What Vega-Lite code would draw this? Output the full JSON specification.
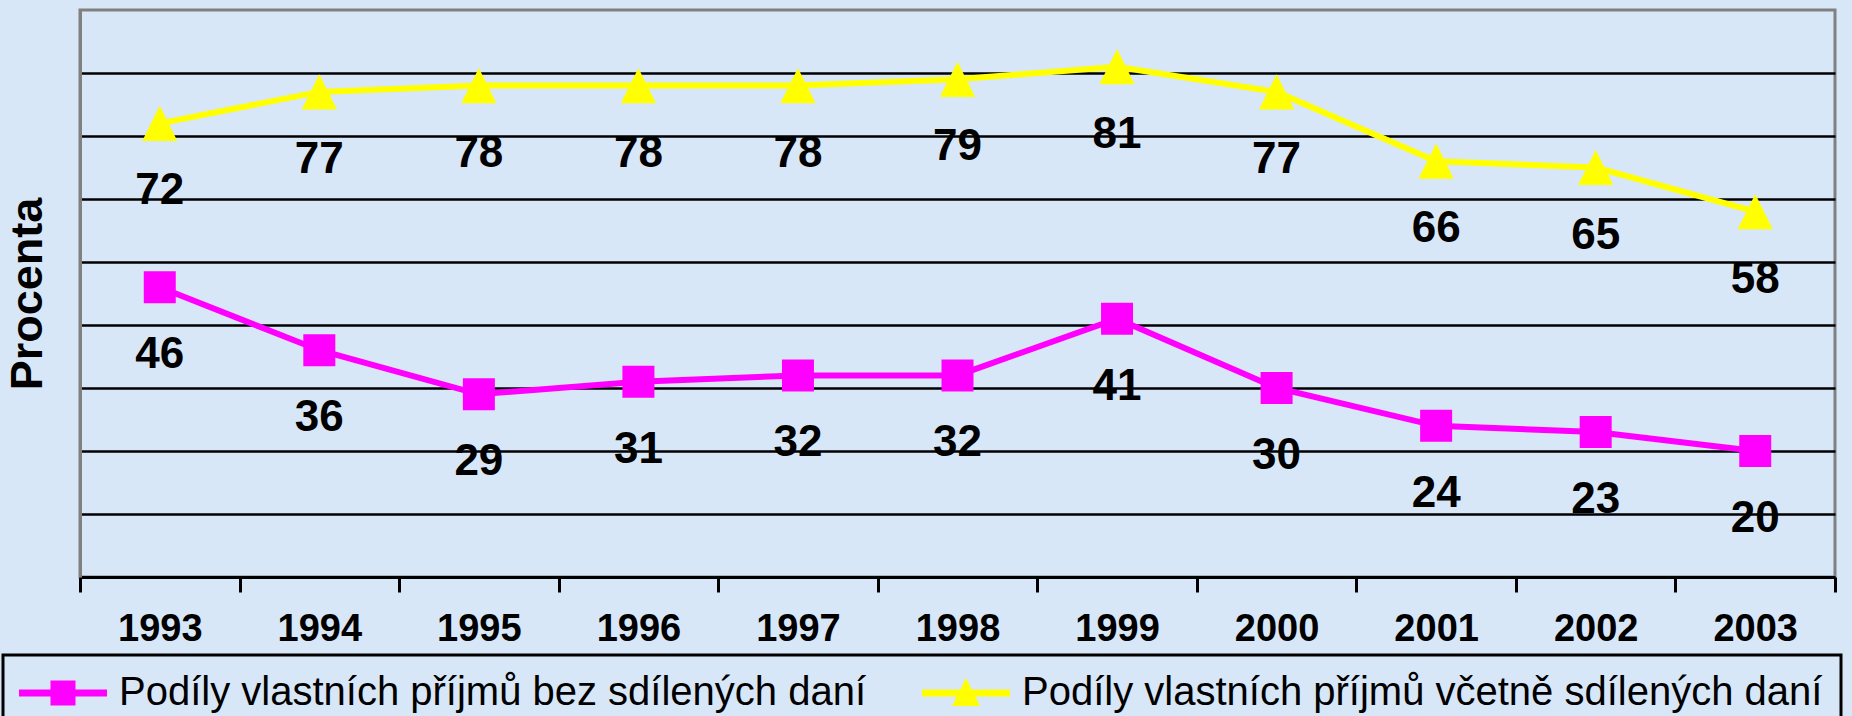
{
  "$schema": "https://vega.github.io/schema/vega-lite/v6.json",
  "width": 1755,
  "height": 567,
  "autosize": {"type": "none"},
  "padding": {"left": 80, "top": 10, "right": 17, "bottom": 139},
  "background": "#d8e7f7",
  "config": {
    "view": {"stroke": "#808080", "strokeWidth": 3},
    "font": "Liberation Sans",
    "legend": {
      "title": null, "orient": "none", "legendX": -77, "legendY": 645,
      "direction": "horizontal", "strokeColor": "black", "strokeWidth": 3, "padding": 18,
      "symbolSize": 1600, "symbolOffset": 22, "symbolOpacity": 1, "symbolStrokeWidth": 0,
      "labelFontSize": 40, "labelFont": "Liberation Sans",
      "labelColor": "black", "labelLimit": 1000, "labelOffset": 36, "columnPadding": 55
    }
  },
  "data": {"values": [
    {"year": "1993", "series": "Podíly vlastních příjmů bez sdílených daní", "value": 46},
    {"year": "1994", "series": "Podíly vlastních příjmů bez sdílených daní", "value": 36},
    {"year": "1995", "series": "Podíly vlastních příjmů bez sdílených daní", "value": 29},
    {"year": "1996", "series": "Podíly vlastních příjmů bez sdílených daní", "value": 31},
    {"year": "1997", "series": "Podíly vlastních příjmů bez sdílených daní", "value": 32},
    {"year": "1998", "series": "Podíly vlastních příjmů bez sdílených daní", "value": 32},
    {"year": "1999", "series": "Podíly vlastních příjmů bez sdílených daní", "value": 41},
    {"year": "2000", "series": "Podíly vlastních příjmů bez sdílených daní", "value": 30},
    {"year": "2001", "series": "Podíly vlastních příjmů bez sdílených daní", "value": 24},
    {"year": "2002", "series": "Podíly vlastních příjmů bez sdílených daní", "value": 23},
    {"year": "2003", "series": "Podíly vlastních příjmů bez sdílených daní", "value": 20},
    {"year": "1993", "series": "Podíly vlastních příjmů včetně sdílených daní", "value": 72},
    {"year": "1994", "series": "Podíly vlastních příjmů včetně sdílených daní", "value": 77},
    {"year": "1995", "series": "Podíly vlastních příjmů včetně sdílených daní", "value": 78},
    {"year": "1996", "series": "Podíly vlastních příjmů včetně sdílených daní", "value": 78},
    {"year": "1997", "series": "Podíly vlastních příjmů včetně sdílených daní", "value": 78},
    {"year": "1998", "series": "Podíly vlastních příjmů včetně sdílených daní", "value": 79},
    {"year": "1999", "series": "Podíly vlastních příjmů včetně sdílených daní", "value": 81},
    {"year": "2000", "series": "Podíly vlastních příjmů včetně sdílených daní", "value": 77},
    {"year": "2001", "series": "Podíly vlastních příjmů včetně sdílených daní", "value": 66},
    {"year": "2002", "series": "Podíly vlastních příjmů včetně sdílených daní", "value": 65},
    {"year": "2003", "series": "Podíly vlastních příjmů včetně sdílených daní", "value": 58}
  ]},
  "encoding": {
    "x": {
      "field": "year", "type": "ordinal",
      "scale": {"paddingInner": 0, "paddingOuter": 0},
      "axis": {
        "title": null, "labelAngle": 0, "labelFontSize": 38, "labelFontWeight": "bold",
        "labelColor": "black", "labelFont": "Liberation Sans",
        "domainColor": "black", "domainWidth": 3,
        "tickColor": "black", "tickWidth": 3, "tickSize": 15, "tickBand": "extent",
        "labelPadding": 18, "grid": false
      }
    },
    "y": {
      "field": "value", "type": "quantitative",
      "scale": {"domain": [0, 90], "nice": false},
      "axis": {
        "title": "Procenta", "titleFontSize": 45, "titleFontWeight": "bold", "titleColor": "black",
        "titleFont": "Liberation Sans", "titlePadding": 30,
        "labels": false, "ticks": false,
        "domain": true, "domainColor": "#808080", "domainWidth": 3,
        "grid": true, "gridColor": "black", "gridWidth": 2.5,
        "values": [10, 20, 30, 40, 50, 60, 70, 80]
      }
    }
  },
  "layer": [
    {
      "mark": {"type": "line", "strokeWidth": 6},
      "encoding": {
        "color": {
          "field": "series", "type": "nominal",
          "scale": {
            "domain": ["Podíly vlastních příjmů bez sdílených daní", "Podíly vlastních příjmů včetně sdílených daní"],
            "range": ["#ff00ff", "#ffff00"]
          }
        }
      }
    },
    {
      "transform": [{"filter": "datum.series === 'Podíly vlastních příjmů bez sdílených daní'"}],
      "mark": {"type": "point", "shape": "square", "filled": true, "opacity": 1, "size": 1024, "color": "#ff00ff"}
    },
    {
      "transform": [{"filter": "datum.series === 'Podíly vlastních příjmů včetně sdílených daní'"}],
      "mark": {"type": "point", "shape": "M0,-1.1L1.1,1.1L-1.1,1.1Z", "filled": true, "opacity": 1, "size": 1024, "color": "#ffff00"}
    },
    {
      "mark": {"type": "point", "filled": true, "opacity": 0, "size": 1600},
      "encoding": {
        "color": {"field": "series", "type": "nominal"},
        "shape": {
          "field": "series", "type": "nominal",
          "scale": {
            "domain": ["Podíly vlastních příjmů bez sdílených daní", "Podíly vlastních příjmů včetně sdílených daní"],
            "range": [
              "M-2.2,-0.175H2.2V0.175H-2.2Z M-0.625,-0.625H0.625V0.625H-0.625Z",
              "M-2.2,-0.175H2.2V0.175H-2.2Z M0,-0.75L0.7,0.65H-0.7Z"
            ]
          }
        }
      }
    },
    {
      "mark": {"type": "text", "dy": 68, "fontSize": 44, "fontWeight": "bold", "baseline": "middle", "font": "Liberation Sans", "color": "black"},
      "encoding": {"text": {"field": "value", "type": "quantitative"}}
    }
  ]
}
